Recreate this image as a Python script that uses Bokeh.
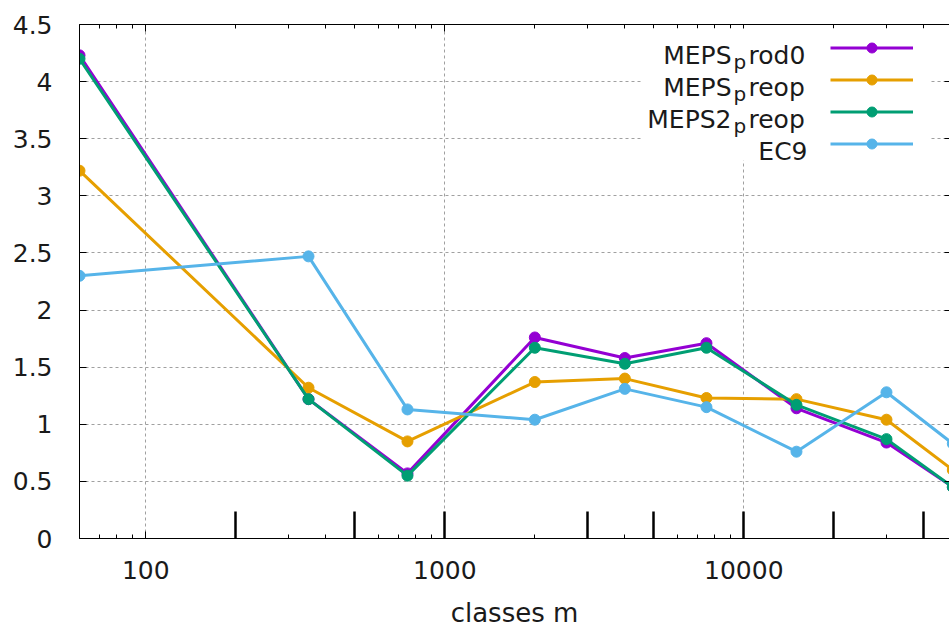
from bokeh.plotting import figure
from bokeh.models import (FixedTicker, LogAxis, LinearAxis, Range1d, Label, Legend, LegendItem,
                          BoxAnnotation)
from bokeh.embed import file_html
from bokeh.resources import INLINE

# ---- data ----
classes = [60, 350, 750, 2000, 4000, 7500, 15000, 30000, 50000]
meps_prod0 = [4.23, 1.22, 0.57, 1.76, 1.58, 1.71, 1.14, 0.84, 0.45]
meps_preop = [3.22, 1.32, 0.85, 1.37, 1.40, 1.23, 1.22, 1.04, 0.60]
meps2_preop = [4.20, 1.22, 0.55, 1.67, 1.53, 1.67, 1.17, 0.87, 0.45]
ec9 = [2.30, 2.47, 1.13, 1.04, 1.31, 1.15, 0.76, 1.28, 0.83]

series = [meps_prod0, meps_preop, meps2_preop, ec9]
# legend names: (main, subscript, rest)  -- gnuplot enhanced-text rendering of "MEPS_prod0" etc.
names = [("MEPS", "p", "rod0"), ("MEPS", "p", "reop"), ("MEPS2", "p", "reop"), ("EC9", "", "")]
colors = ["#9400d3", "#e69f00", "#009e73", "#56b4e9"]

x_major = [100, 1000, 10000]
x_minor = [60, 70, 80, 90, 200, 300, 400, 500, 600, 700, 800, 900,
           2000, 3000, 4000, 5000, 6000, 7000, 8000, 9000,
           20000, 30000, 40000, 50000]
x_big = [200, 500, 1000, 3000, 5000, 10000, 20000, 40000]
y_ticks = [0, 0.5, 1, 1.5, 2, 2.5, 3, 3.5, 4, 4.5]
y_labels = ["0", "0.5", "1", "1.5", "2", "2.5", "3", "3.5", "4", "4.5"]
x_label = "classes m"
x_start, x_end = 60, 48740

FONT = "DejaVu Sans"
TXT = "#1a1a1a"

p = figure(width=949, height=630, x_axis_type="log",
           x_range=Range1d(x_start, x_end), y_range=Range1d(0, 4.5),
           output_backend="svg", toolbar_location=None,
           min_border_left=79, min_border_right=0, min_border_top=24, min_border_bottom=92)
p.outline_line_color = None
p.background_fill_color = "white"

# grids
p.xgrid.ticker = FixedTicker(ticks=x_major)
p.ygrid.ticker = FixedTicker(ticks=y_ticks[1:-1])
for g in (p.xgrid[0], p.ygrid[0]):
    g.grid_line_color = "#a0a0a0"
    g.grid_line_dash = "3 3"
    g.grid_line_width = 1

# bottom axis
xa = p.xaxis[0]
xa.ticker = FixedTicker(ticks=x_major, minor_ticks=x_minor)
xa.major_label_overrides = {v: str(v) for v in x_major}
xa.major_tick_in = 7
xa.major_tick_out = 0
xa.minor_tick_in = 4
xa.minor_tick_out = 0
xa.major_label_standoff = 22
xa.major_label_text_font = FONT
xa.major_label_text_font_size = "25px"
xa.major_label_text_color = TXT
xa.axis_label = x_label
xa.axis_label_text_font = FONT
xa.axis_label_text_font_size = "26px"
xa.axis_label_text_font_style = "normal"
xa.axis_label_text_color = TXT
xa.axis_label_standoff = 16
xa.axis_line_color = "black"
xa.major_tick_line_color = "black"
xa.minor_tick_line_color = "black"

# left axis
ya = p.yaxis[0]
ya.ticker = FixedTicker(ticks=y_ticks)
ya.major_label_overrides = {t: l for t, l in zip(y_ticks, y_labels)}
ya.major_tick_in = 7
ya.major_tick_out = 0
ya.minor_tick_line_color = None
ya.major_label_standoff = 27
ya.major_label_text_font = FONT
ya.major_label_text_font_size = "25px"
ya.major_label_text_color = TXT
ya.axis_line_color = "black"

# mirrored y ticks at the right border
ra = LinearAxis(ticker=FixedTicker(ticks=y_ticks[1:-1]), fixed_location=x_end,
                major_label_overrides={t: "" for t in y_ticks[1:-1]},
                major_tick_in=0, major_tick_out=5, minor_tick_line_color=None,
                axis_line_color=None, major_label_standoff=0,
                major_label_text_font_size="1px")
p.add_layout(ra, "left")

# top border with mirrored ticks
ta = LogAxis(ticker=FixedTicker(ticks=x_major, minor_ticks=x_minor),
             major_label_overrides={v: "" for v in x_major},
             major_tick_in=7, major_tick_out=0, minor_tick_in=4, minor_tick_out=0,
             major_label_standoff=0, major_label_text_font_size="1px",
             axis_line_color="black")
p.add_layout(ta, "above")

# large extra ticks on the bottom border
ba = LogAxis(ticker=FixedTicker(ticks=x_big, minor_ticks=[]), fixed_location=0,
             major_label_overrides={v: "" for v in x_big},
             major_tick_in=27, major_tick_out=0, major_tick_line_width=2.5,
             minor_tick_line_color=None, axis_line_color=None,
             major_label_standoff=0, major_label_text_font_size="1px")
p.add_layout(ba, "below")

# data
items = []
for ys, c in zip(series, colors):
    lr = p.line(classes, ys, line_color=c, line_width=3)
    sr = p.scatter(classes, ys, size=11, marker="circle", fill_color=c, line_color=c)
    items.append(LegendItem(label=" ", renderers=[lr, sr]))

# legend background
box = BoxAnnotation(left=563, right=851, top=510, bottom=378,
                    left_units="screen", right_units="screen",
                    top_units="screen", bottom_units="screen",
                    fill_color="white", fill_alpha=1.0, line_color=None)
p.add_layout(box)

legend = Legend(items=items, location=(751, 382), glyph_width=83, glyph_height=25,
                spacing=7, padding=0, margin=0, label_standoff=0, label_width=0,
                label_height=0, label_text_font_size="1px",
                background_fill_alpha=0, border_line_alpha=0)
p.add_layout(legend)

# legend texts (right-aligned, gnuplot style with subscript)
base0 = 483
for i, (main, sub, rest) in enumerate(names):
    by = base0 - 32 * i
    if sub:
        p.add_layout(Label(x=652, y=by, x_units="screen", y_units="screen", text=main,
                           text_align="right", text_baseline="alphabetic",
                           text_font=FONT, text_font_size="25px", text_color=TXT))
        p.add_layout(Label(x=654, y=by - 6, x_units="screen", y_units="screen", text=sub,
                           text_align="left", text_baseline="alphabetic",
                           text_font=FONT, text_font_size="20px", text_color=TXT))
        p.add_layout(Label(x=669, y=by, x_units="screen", y_units="screen", text=rest,
                           text_align="left", text_baseline="alphabetic",
                           text_font=FONT, text_font_size="25px", text_color=TXT))
    else:
        p.add_layout(Label(x=728, y=by, x_units="screen", y_units="screen", text=main,
                           text_align="right", text_baseline="alphabetic",
                           text_font=FONT, text_font_size="25px", text_color=TXT))

open("out.html", "w").write(file_html(p, INLINE))
